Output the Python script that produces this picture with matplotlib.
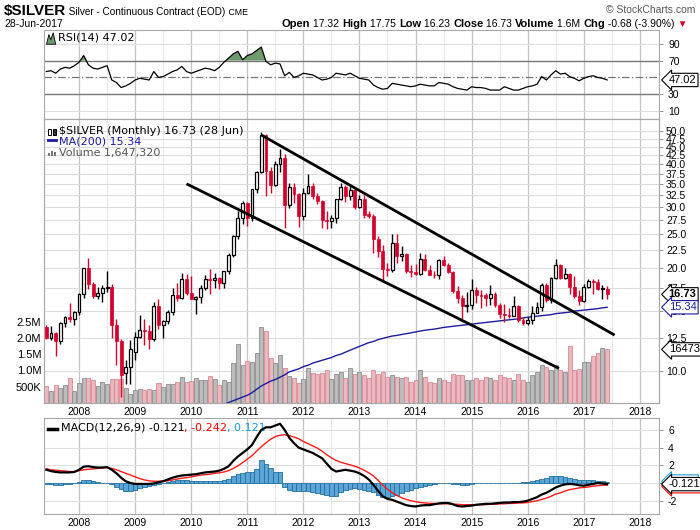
import numpy as np
import pandas as pd
import matplotlib
matplotlib.use("Agg")
import matplotlib.pyplot as plt
import matplotlib.transforms as mtransforms
from matplotlib.patches import Rectangle, Polygon

plt.rcParams['font.family'] = ['Liberation Sans', 'DejaVu Sans']

# ---- data (monthly, Jun 2007 .. Jun 2017) ----
months = pd.period_range("2007-06", "2017-06", freq="M")

opens = [13.45, 12.50, 12.90, 12.20, 13.80, 14.40, 14.20,
         14.90, 16.80, 19.90, 17.90, 16.50, 16.90, 17.50, 17.60, 13.60, 12.20, 9.85, 10.30,
         11.40, 12.60, 13.15, 13.05, 12.40, 15.50, 13.60, 14.00, 14.90, 16.60, 16.30, 18.60,
         16.90, 16.20, 16.40, 17.50, 18.60, 18.40, 18.70, 18.00, 19.50, 21.80, 24.70, 28.00,
         30.90, 28.00, 34.00, 37.90, 48.60, 38.20, 34.90, 40.00, 41.60, 30.40, 34.40, 32.80,
         28.20, 33.10, 34.60, 32.40, 31.20, 27.60, 27.30, 27.90, 31.60, 34.40, 32.30, 33.60,
         30.00, 31.60, 28.60, 28.30, 24.20, 22.30, 19.80, 19.70, 23.60, 21.70, 21.90, 19.50,
         19.40, 19.20, 21.20, 19.70, 19.10, 19.00, 21.00, 20.40, 19.40, 17.10, 16.30, 15.50,
         15.60, 17.20, 16.60, 16.60, 16.30, 16.80, 15.60, 14.70, 14.60, 14.50, 15.50, 14.10,
         13.80, 14.10, 14.80, 15.40, 17.80, 16.10, 18.70, 20.30, 18.70, 19.20, 17.60, 16.50,
         16.00, 17.60, 18.30, 18.20, 17.30, 17.32]
highs = [13.60, 13.50, 13.00, 13.90, 14.50, 15.80, 15.00,
         16.90, 20.00, 21.40, 18.20, 17.60, 17.80, 19.50, 17.90, 14.20, 12.40, 10.75, 12.30,
         13.00, 14.60, 14.20, 13.60, 15.90, 16.20, 14.10, 15.10, 17.50, 18.00, 19.30, 19.20,
         18.90, 16.50, 17.80, 19.00, 19.80, 19.30, 18.80, 19.60, 22.10, 24.90, 29.30, 31.30,
         31.00, 34.00, 38.20, 49.80, 49.00, 39.40, 40.80, 44.40, 43.00, 35.30, 35.40, 33.00,
         34.20, 37.50, 35.40, 33.10, 31.50, 29.20, 28.40, 31.70, 35.40, 34.80, 34.50, 34.30,
         32.50, 32.50, 29.20, 28.60, 24.70, 23.30, 20.70, 25.00, 25.10, 23.10, 22.10, 20.30,
         20.50, 22.00, 21.90, 20.30, 19.60, 21.20, 21.60, 20.60, 19.50, 17.70, 16.70, 17.00,
         18.50, 17.60, 17.20, 16.90, 17.80, 17.00, 15.80, 15.70, 15.30, 16.50, 15.60, 14.40,
         14.40, 15.50, 15.90, 18.00, 18.00, 18.80, 21.20, 20.50, 20.00, 19.30, 18.90, 17.20,
         17.90, 18.60, 18.50, 18.60, 17.80, 17.75]
lows = [12.40, 12.30, 11.10, 12.00, 13.40, 13.90, 13.60,
        14.60, 16.30, 17.30, 16.30, 16.20, 15.90, 17.00, 12.50, 10.40, 8.40, 9.20, 9.20,
        10.80, 12.50, 11.90, 11.60, 12.20, 13.30, 12.50, 13.70, 14.60, 16.00, 16.20, 16.60,
        16.20, 14.70, 15.80, 17.20, 16.80, 17.40, 17.30, 17.50, 19.20, 21.50, 24.20, 26.80,
        26.40, 27.30, 33.00, 37.80, 32.30, 33.00, 34.60, 38.10, 26.10, 29.90, 30.80, 26.20,
        27.60, 32.70, 31.60, 30.60, 26.10, 26.00, 26.10, 26.90, 31.40, 31.00, 31.50, 29.60,
        29.80, 28.00, 28.00, 22.00, 21.50, 18.20, 18.90, 19.40, 20.70, 20.90, 19.30, 18.80,
        19.10, 19.10, 19.60, 19.00, 18.70, 18.60, 20.20, 19.30, 16.90, 15.80, 14.20, 14.90,
        15.20, 15.80, 15.30, 15.50, 15.60, 15.40, 14.30, 13.90, 14.30, 14.50, 13.90, 13.60,
        13.60, 13.70, 14.80, 15.00, 15.90, 15.80, 18.60, 18.60, 18.50, 16.80, 16.30, 15.60,
        15.90, 17.40, 16.80, 17.20, 16.20, 16.23]
closes = [12.50, 12.90, 12.20, 13.80, 14.40, 14.20, 14.90,
          16.80, 19.90, 17.90, 16.50, 16.90, 17.50, 17.60, 13.60, 12.20, 9.75, 10.30, 11.60,
          12.60, 13.15, 13.05, 12.40, 15.50, 13.60, 14.00, 14.90, 16.60, 16.30, 18.60, 16.90,
          16.20, 16.40, 17.50, 18.60, 18.40, 18.70, 18.00, 19.50, 21.80, 24.70, 28.00, 30.90,
          28.00, 34.00, 37.90, 48.60, 38.20, 34.90, 40.00, 41.60, 30.40, 34.40, 32.80, 28.20,
          33.10, 34.60, 32.40, 31.20, 27.60, 27.30, 27.90, 31.60, 34.40, 32.30, 33.60, 30.00,
          31.60, 28.40, 28.30, 24.20, 22.30, 19.80, 19.70, 23.60, 21.70, 21.90, 19.50, 19.40,
          19.20, 21.20, 19.70, 19.10, 19.00, 21.00, 20.40, 19.40, 17.10, 16.30, 15.50, 15.60,
          17.20, 16.60, 16.55, 16.30, 16.80, 15.60, 14.70, 14.60, 14.50, 15.50, 14.10, 13.80,
          14.10, 14.80, 15.40, 17.80, 16.10, 18.70, 20.30, 18.70, 19.20, 17.60, 16.50, 16.00,
          17.60, 18.30, 18.20, 17.30, 17.50, 16.73]
volume_m = [0.51, 0.36, 0.54, 0.44, 0.54, 0.75, 0.36,
            0.62, 0.75, 0.75, 0.69, 0.51, 0.64, 0.58, 0.72, 0.72, 0.72, 0.44, 0.28,
            0.39, 0.42, 0.39, 0.41, 0.39, 0.62, 0.47, 0.58, 0.58, 0.64, 0.79, 0.64,
            0.66, 0.75, 0.69, 0.69, 0.82, 0.72, 0.55, 0.69, 0.64, 1.22, 1.81, 1.15,
            1.30, 1.25, 1.53, 2.35, 2.22, 1.38, 1.22, 1.46, 1.08, 0.81, 0.75, 0.62,
            0.72, 1.06, 0.93, 0.88, 0.93, 1.01, 0.72, 0.88, 0.95, 0.75, 1.06, 0.90,
            0.95, 0.85, 0.75, 1.00, 0.90, 0.95, 0.80, 0.85, 0.80, 0.75, 0.80, 0.65,
            0.70, 1.00, 0.80, 0.65, 0.60, 0.75, 0.70, 0.65, 0.90, 0.85, 0.85, 0.70,
            0.70, 0.75, 0.70, 0.80, 0.75, 0.70, 0.85, 0.80, 0.75, 0.70, 0.90, 0.70,
            0.65, 0.85, 0.95, 1.15, 1.10, 1.00, 1.15, 1.00, 0.95, 1.75, 1.00, 1.05,
            1.25, 1.25, 1.45, 1.55, 1.70, 1.647]
# MA(200) enters the visible price range in late 2010
ma_start = "2010-07"
ma200 = [7.95, 8.00, 8.10, 8.20, 8.30, 8.40,
         8.50, 8.65, 8.85, 9.05, 9.20, 9.35, 9.45, 9.60, 9.75, 9.95, 10.05, 10.15,
         10.30, 10.40, 10.55, 10.65, 10.75, 10.85, 10.95, 11.10, 11.20, 11.35, 11.50, 11.65,
         11.80, 11.95, 12.10, 12.20, 12.35, 12.45, 12.55, 12.65, 12.70, 12.78, 12.85, 12.92,
         13.00, 13.08, 13.15, 13.20, 13.25, 13.32, 13.40, 13.45, 13.50, 13.55, 13.60, 13.65,
         13.70, 13.75, 13.80, 13.85, 13.90, 13.95, 14.00, 14.05, 14.10, 14.15, 14.20, 14.28,
         14.35, 14.40, 14.45, 14.50, 14.55, 14.60, 14.70, 14.75, 14.80, 14.85, 14.95, 15.00,
         15.05, 15.10, 15.15, 15.20, 15.28, 15.34]
rsi = [57, 58, 55, 60, 62, 61, 64,
       68, 76, 65, 61, 60, 62, 64, 47, 44, 38, 40, 43,
       47, 49, 48, 47, 57, 50, 51, 54, 57, 59, 63, 57,
       55, 57, 59, 61, 60, 58, 62, 68, 73, 78, 81, 71,
       76, 78, 82, 86, 69, 65, 67, 66, 52, 56, 50, 52,
       55, 54, 53, 50, 47, 48, 50, 55, 54, 53, 55, 52,
       49, 48, 47, 41, 38, 36, 37, 43, 42, 41, 40, 39,
       40, 42, 41, 40, 40, 44, 43, 42, 39, 37, 36, 35,
       39, 38, 38, 37, 35, 35, 35, 39, 37, 35, 35, 37,
       39, 40, 42, 51, 47, 53, 58, 54, 55, 51, 49, 46,
       49, 51, 52, 50, 49, 47.02]
macd = [1.50, 1.35, 1.25, 1.20, 1.20, 1.20, 1.25,
        1.50, 1.85, 1.90, 1.80, 1.75, 1.75, 1.80, 1.50, 1.10, 0.60, 0.20, 0.00,
        -0.10, -0.10, -0.10, -0.10, -0.05, 0.10, 0.20, 0.40, 0.60, 0.75, 0.85, 0.90,
        0.95, 1.00, 1.10, 1.20, 1.25, 1.30, 1.40, 1.60, 1.90, 2.50, 3.00, 3.40,
        3.80, 4.30, 5.20, 6.00, 6.30, 6.30, 6.50, 6.70, 6.00, 5.10, 4.50, 4.00,
        3.80, 3.60, 3.40, 3.10, 2.80, 2.20, 1.60, 1.30, 1.40, 1.50, 1.40, 1.30,
        1.10, 0.80, 0.40, -0.20, -0.90, -1.50, -1.80, -1.90, -2.10, -2.30, -2.50, -2.60,
        -2.65, -2.55, -2.50, -2.50, -2.40, -2.30, -2.25, -2.25, -2.40, -2.60, -2.65, -2.60,
        -2.55, -2.45, -2.40, -2.35, -2.35, -2.30, -2.25, -2.20, -2.20, -2.15, -2.15, -2.10,
        -2.00, -1.80, -1.60, -1.30, -1.10, -0.80, -0.50, -0.30, -0.15, -0.10, -0.15, -0.25,
        -0.30, -0.20, -0.10, 0.00, -0.05, -0.121]
signal = [1.60, 1.50, 1.45, 1.40, 1.35, 1.30, 1.30,
          1.40, 1.50, 1.55, 1.60, 1.65, 1.70, 1.75, 1.65, 1.50, 1.30, 1.10, 0.90,
          0.70, 0.50, 0.35, 0.25, 0.20, 0.20, 0.20, 0.25, 0.35, 0.45, 0.55, 0.60,
          0.70, 0.80, 0.90, 0.95, 1.00, 1.10, 1.15, 1.25, 1.40, 1.65, 1.95, 2.30,
          2.70, 3.10, 3.60, 4.10, 4.55, 4.95, 5.25, 5.40, 5.45, 5.35, 5.20, 5.00,
          4.70, 4.45, 4.20, 3.95, 3.60, 3.20, 2.85, 2.55, 2.35, 2.20, 2.05, 1.90,
          1.70, 1.45, 1.15, 0.80, 0.30, -0.25, -0.70, -1.10, -1.40, -1.65, -1.85, -2.00,
          -2.10, -2.20, -2.25, -2.30, -2.30, -2.35, -2.35, -2.35, -2.40, -2.40, -2.45, -2.45,
          -2.45, -2.45, -2.45, -2.45, -2.40, -2.40, -2.35, -2.35, -2.30, -2.30, -2.25, -2.25,
          -2.20, -2.10, -2.00, -1.85, -1.70, -1.50, -1.25, -1.10, -0.90, -0.75, -0.65, -0.55,
          -0.50, -0.45, -0.35, -0.30, -0.25, -0.242]
hist = [-0.10, -0.15, -0.20, -0.20, -0.15, -0.10, -0.05,
        0.10, 0.30, 0.35, 0.20, 0.10, 0.05, 0.05, -0.15, -0.40, -0.70, -0.90, -0.90,
        -0.80, -0.60, -0.45, -0.35, -0.25, -0.10, 0.00, 0.15, 0.25, 0.30, 0.30, 0.30,
        0.25, 0.20, 0.20, 0.25, 0.25, 0.20, 0.25, 0.35, 0.50, 0.85, 1.05, 1.10,
        1.20, 1.30, 1.60, 2.55, 2.10, 1.75, 1.30, 1.30, -0.40, -0.80, -0.85, -0.90,
        -0.90, -0.95, -1.00, -1.10, -1.20, -1.40, -1.50, -1.50, -1.00, -0.80, -0.65, -0.60,
        -0.65, -0.75, -0.85, -1.00, -1.30, -1.60, -1.60, -1.50, -1.30, -1.10, -0.90, -0.75,
        -0.60, -0.45, -0.35, -0.25, -0.15, -0.05, 0.00, 0.05, -0.10, -0.15, -0.20, -0.20,
        -0.15, -0.05, 0.00, 0.05, 0.05, 0.05, 0.05, 0.05, 0.05, 0.05, 0.05, 0.10,
        0.15, 0.25, 0.35, 0.50, 0.60, 0.75, 0.80, 0.75, 0.70, 0.60, 0.50, 0.35,
        0.30, 0.30, 0.30, 0.25, 0.20, 0.121]

# hand-drawn channel lines (month offset from Jan 2008, price)
chan_upper_m = [39.1, 114.6]
chan_upper_p = [48.6, 12.73]
chan_lower_m = [23.0, 102.7]
chan_lower_p = [35.1, 10.18]

price_ticks = [10.0, 12.5, 15.0, 17.5, 20.0, 22.5, 25.0, 27.5, 30.0, 32.5,
               35.0, 37.5, 40.0, 42.5, 45.0, 47.5, 50.0]
vol_ticks = [0.5, 1.0, 1.5, 2.0, 2.5]
vol_labels = ["500K", "1.0M", "1.5M", "2.0M", "2.5M"]
years = list(range(2008, 2019))

# ---- derived positions ----
x = np.array([(p.year - 2008) * 12 + p.month - 1 for p in months])
ms = pd.Period(ma_start, freq="M")
x_ma = np.array([((ms + i).year - 2008) * 12 + (ms + i).month - 1 for i in range(len(ma200))])
o, h, l, c = map(np.array, (opens, highs, lows, closes))
up = c >= o
RED = "#d4002b"
NAVY = "#1c1c9c"
XL = (-7.5, 124.1)
year_x = [(y - 2008) * 12 for y in years]
half_x = [v + 6 for v in year_x]

W, H = 700, 530
fig = plt.figure(figsize=(7, 5.3), dpi=100)


def frame(y0, y1):
    return [44 / W, 1 - y1 / H, 615 / W, (y1 - y0) / H]


def value_box(ax, txt, yval, ec, **kw):
    ax.annotate(txt, xy=(1, yval), xycoords=ax.get_yaxis_transform(),
                xytext=(7, 0), textcoords="offset points", va="center", ha="left",
                fontsize=8, annotation_clip=False, zorder=10,
                bbox=dict(boxstyle="larrow,pad=0.15", fc="white", ec=ec, lw=0.8), **kw)


ax_r = fig.add_axes(frame(30, 119))
ax_v = fig.add_axes(frame(119, 402.7))
ax_p = ax_v.twinx()
ax_m = fig.add_axes(frame(418, 514))

for a in (ax_r, ax_v, ax_m):
    a.set_xlim(*XL)
    for xv in half_x:
        a.axvline(xv, color="#e6e6e6", lw=0.8, zorder=0)
    for xv in year_x:
        a.axvline(xv, color="#c4c4c4", lw=0.9, zorder=0)
for a in (ax_r, ax_v, ax_p, ax_m):
    for s in a.spines.values():
        s.set_color("#a8a8a8")
        s.set_linewidth(0.8)
    a.tick_params(colors="#888888", labelcolor="black", labelsize=7.5, length=3, width=0.6)

# ---- RSI panel ----
rsi_a = np.array(rsi, dtype=float)
ax_r.set_ylim(0.7, 106.3)
for lv in (10, 90):
    ax_r.axhline(lv, color="#e0e0e0", lw=0.8, zorder=0)
ax_r.axhline(70, color="#777777", lw=1.0, zorder=1)
ax_r.axhline(30, color="#777777", lw=1.0, zorder=1)
ax_r.axhline(50, color="#777777", lw=0.9, ls=(0, (6, 2, 1, 2)), zorder=1)
ax_r.fill_between(x, rsi_a, 70, where=rsi_a > 70, interpolate=True,
                  facecolor="#6e9a6e", edgecolor="none", zorder=2)
ax_r.plot(x, rsi_a, color="black", lw=0.9, zorder=3)
ax_r.yaxis.tick_right()
ax_r.set_yticks([10, 30, 70, 90])
ax_r.set_xticks(year_x)
ax_r.tick_params(axis="x", labelbottom=False, length=0)
value_box(ax_r, "47.02", rsi_a[-1], "black")
ax_r.add_patch(Polygon([[0.004, 0.84], [0.008, 0.95], [0.011, 0.89], [0.015, 0.97],
                        [0.019, 0.84]], closed=True, transform=ax_r.transAxes,
                       fc="#6e9a6e", ec="black", lw=0.6))
ax_r.text(0.022, 0.975, "RSI(14) 47.02", transform=ax_r.transAxes, fontsize=8,
          family="DejaVu Sans", va="top")

# ---- price + volume panel ----
vol = np.array(volume_m)
blend = mtransforms.blended_transform_factory(ax_v.transAxes, ax_p.transData)
ax_p.set_yscale("log")
ax_p.set_ylim(8.09, 54.2)
ax_p.set_xlim(*XL)
for pt in price_ticks:
    ax_v.plot([0, 1], [pt, pt], transform=blend, color="#dcdcdc", lw=0.8, zorder=0)
ax_v.set_ylim(0, 8.76)
ax_v.bar(x, vol, width=0.86, color=np.where(up, "#bcbcbc", "#eab9c0"),
         edgecolor=np.where(up, "#8e8e8e", "#d98893"), lw=0.6, zorder=2)
ax_v.set_yticks(vol_ticks)
ax_v.set_yticklabels(vol_labels, fontsize=8)
ax_v.tick_params(axis="y", length=0, pad=2)
ax_v.set_xticks(year_x)
ax_v.set_xticklabels([str(y) for y in years])
ax_v.tick_params(axis="x", length=0, pad=3)

ax_p.set_zorder(ax_v.get_zorder() + 1)
ax_p.patch.set_visible(False)
ax_p.plot(x_ma, ma200, color=NAVY, lw=1.0, zorder=2)
ax_p.vlines(x, l, h, colors=np.where(up, "black", RED), lw=1.0, zorder=3)
body_lo = np.minimum(o, c)
body_h = np.maximum(np.abs(c - o), 0.04)
ax_p.bar(x[up], body_h[up], bottom=body_lo[up], width=0.62, facecolor="white",
         edgecolor="black", lw=0.9, zorder=4)
ax_p.bar(x[~up], body_h[~up], bottom=body_lo[~up], width=0.62, facecolor=RED,
         edgecolor=RED, lw=0.5, zorder=4)
ax_p.plot(chan_upper_m, chan_upper_p, color="black", lw=2.0, zorder=5, solid_capstyle="butt")
ax_p.plot(chan_lower_m, chan_lower_p, color="black", lw=2.0, zorder=5, solid_capstyle="butt")
ax_p.yaxis.set_minor_locator(matplotlib.ticker.NullLocator())
ax_p.set_yticks(price_ticks)
ax_p.set_yticklabels([f"{v:.1f}" for v in price_ticks])
ax_p.tick_params(axis="y", pad=2)

value_box(ax_p, "16.73", closes[-1], "black", fontweight="bold")
value_box(ax_p, "15.34", ma200[-1], NAVY, color=NAVY)
value_box(ax_v, "1647320", vol[-1], "black")

leg_kw = dict(transform=ax_p.transAxes, fontsize=8, family="DejaVu Sans", va="top")
ax_p.text(0.024, 0.975, "$SILVER (Monthly) 16.73 (28 Jun)", color="black", **leg_kw)
ax_p.text(0.024, 0.937, "MA(200) 15.34", color=NAVY, **leg_kw)
ax_p.text(0.024, 0.899, "Volume 1,647,320", color="#555555", **leg_kw)
# legend icons: candle pair, MA dash, volume bars
ax_p.add_patch(Rectangle((0.006, 0.942), 0.005, 0.022, transform=ax_p.transAxes,
                         fc="white", ec="black", lw=0.7))
ax_p.add_patch(Rectangle((0.014, 0.942), 0.005, 0.022, transform=ax_p.transAxes,
                         fc="#333333", ec="black", lw=0.7))
ax_p.plot([0.006, 0.02], [0.925, 0.925], transform=ax_p.transAxes, color=NAVY, lw=2)
for i, hh in enumerate((0.012, 0.02, 0.016)):
    ax_p.add_patch(Rectangle((0.006 + i * 0.005, 0.868), 0.004, hh,
                             transform=ax_p.transAxes, fc="#777777", ec="none"))

# ---- MACD panel ----
ax_m.set_ylim(-3.5, 7.35)
for lv in (-2, 0, 2, 4, 6):
    ax_m.axhline(lv, color="#e0e0e0", lw=0.8, zorder=0)
ax_m.bar(x, hist, width=1.0, color="#5ba6d6", edgecolor="#22709e", lw=0.6, zorder=2)
ax_m.plot(x, signal, color="#ff1a1a", lw=1.0, zorder=3)
ax_m.plot(x, macd, color="black", lw=1.6, zorder=4)
ax_m.yaxis.tick_right()
ax_m.set_yticks([-2, 0, 2, 4, 6])
ax_m.set_yticklabels(["-2", "", "2", "4", "6"])
ax_m.set_xticks(year_x)
ax_m.set_xticklabels([str(y) for y in years])
ax_m.tick_params(axis="x", length=0, pad=3)
value_box(ax_m, "-0.242", signal[-1] - 0.12, "red")
value_box(ax_m, "0.121", hist[-1] + 0.05, "#1a9bd7")
value_box(ax_m, "-0.121", macd[-1], "black")
t0 = ax_m.text(0.027, 0.95, "MACD(12,26,9) -0.121", transform=ax_m.transAxes,
               fontsize=8, family="DejaVu Sans", va="top")
t1 = ax_m.annotate(", -0.242", xy=(1, 0), xycoords=t0, va="bottom", fontsize=8,
                   family="DejaVu Sans", color="red")
ax_m.annotate(", 0.121", xy=(1, 0), xycoords=t1, va="bottom", fontsize=8,
              family="DejaVu Sans", color="#1a9bd7")
ax_m.plot([0.006, 0.021], [0.89, 0.89], transform=ax_m.transAxes, color="black", lw=2.5)

# ---- header ----
t = fig.text(4 / W, 1 - 4 / H, "$SILVER", fontsize=11, fontweight="bold", va="top")
t = fig.add_artist(matplotlib.text.Annotation(
    " Silver - Continuous Contract (EOD)", xy=(1, 0.1), xycoords=t, va="bottom",
    fontsize=7.2))
fig.add_artist(matplotlib.text.Annotation(" CME", xy=(1, 0), xycoords=t, va="bottom",
                                          fontsize=6.3))
fig.text(695 / W, 1 - 5 / H, "\u00a9 StockCharts.com", fontsize=7.5, color="#555555",
         ha="right", va="top")
fig.text(4 / W, 1 - 19 / H, "28-Jun-2017", fontsize=7.5, va="top")
parts = [("Open", True), (" 17.32 ", False), ("High", True), (" 17.75 ", False),
         ("Low", True), (" 16.23 ", False), ("Close", True), (" 16.73 ", False),
         ("Volume", True), (" 1.6M ", False), ("Chg", True), (" -0.68 (-3.90%)", False)]
prev = fig.text(282 / W, 1 - 19 / H, parts[0][0], fontsize=8, fontweight="bold", va="top")
for txt, bold in parts[1:]:
    prev = fig.add_artist(matplotlib.text.Annotation(
        txt, xy=(1, 0), xycoords=prev, va="bottom", fontsize=8 if bold else 7.5,
        fontweight="bold" if bold else "normal"))
fig.add_artist(matplotlib.text.Annotation(" \u25bc", xy=(1, 0), xycoords=prev,
                                          va="bottom", fontsize=7, color=RED))

fig.savefig("out.png", dpi=100)
